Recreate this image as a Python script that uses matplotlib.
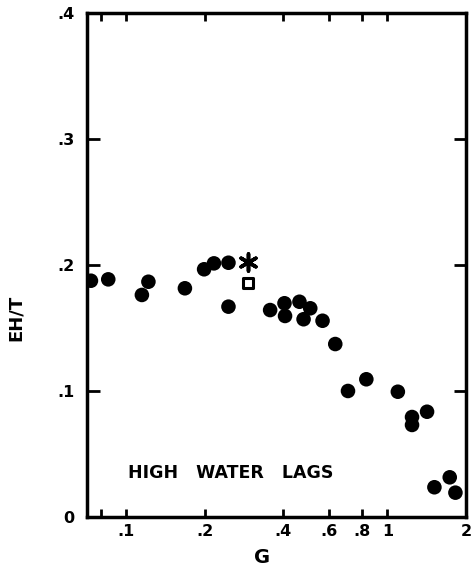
import matplotlib
matplotlib.use("Agg")
import matplotlib.pyplot as plt
from matplotlib.ticker import NullLocator, FixedLocator, FixedFormatter

# ---- data ----
g_dots = [0.0734, 0.0855, 0.115, 0.1218, 0.168, 0.199, 0.217, 0.2466, 0.2466,
          0.356, 0.404, 0.406, 0.461, 0.507, 0.478, 0.565, 0.632, 0.707,
          0.831, 1.097, 1.243, 1.243, 1.419, 1.514, 1.733, 1.822]
eht_dots = [0.1875, 0.1886, 0.1762, 0.1867, 0.1815, 0.1966, 0.2013, 0.2018, 0.1669,
            0.1642, 0.1696, 0.1595, 0.1708, 0.1656, 0.1569, 0.1557, 0.1372, 0.0999,
            0.1092, 0.0993, 0.0792, 0.0729, 0.0834, 0.0234, 0.0313, 0.0191]
g_star = [0.294]
eht_star = [0.2026]
g_square = [0.292]
eht_square = [0.1859]

x_ticks = [0.08, 0.1, 0.2, 0.4, 0.6, 0.8, 1.0, 2.0]
x_tick_labels = ["", ".1", ".2", ".4", ".6", ".8", "1", "2"]
y_ticks = [0.0, 0.1, 0.2, 0.3, 0.4]
y_tick_labels = ["0", ".1", ".2", ".3", ".4"]

W, H = 471, 567
fig = plt.figure(figsize=(W / 100, H / 100), dpi=100)
left, right, top, bottom = 87, 466, 13.3, 516.7
ax = fig.add_axes([left / W, 1 - bottom / H, (right - left) / W, (bottom - top) / H])

ax.scatter(g_dots, eht_dots, s=110, color="black", edgecolors="none", zorder=3)
ax.scatter(g_star, eht_star, s=150, marker=(6, 2, 0), color="black",
           linewidths=2.6, zorder=3)
ax.scatter(g_square, eht_square, s=42, marker="s", facecolors="white",
           edgecolors="black", linewidths=2.2, zorder=3)

ax.set_xscale("log")
ax.set_xlim(0.0709, 2.0)
ax.set_ylim(0, 0.4)

ax.xaxis.set_major_locator(FixedLocator(x_ticks))
ax.xaxis.set_major_formatter(FixedFormatter(x_tick_labels))
ax.xaxis.set_minor_locator(NullLocator())
ax.set_yticks(y_ticks)
ax.set_yticklabels(y_tick_labels)

for s in ax.spines.values():
    s.set_linewidth(2.5)

ax.tick_params(axis="x", which="major", direction="in", top=True, bottom=True,
               length=6, width=2, pad=5, labelsize=11.5)
ax.tick_params(axis="y", which="major", direction="in", left=True, right=True,
               length=9, width=2, pad=9, labelsize=11.5)
for lab in ax.get_xticklabels() + ax.get_yticklabels():
    lab.set_fontweight("bold")

ax.set_xlabel("G", fontsize=14, fontweight="bold")
ax.set_ylabel("EH/T", fontsize=13, fontweight="bold")
ax.xaxis.set_label_coords(0.462, -0.062)
ax.yaxis.set_label_coords(-0.164, 0.395)

ax.text(0.1018, 0.0347, "HIGH   WATER   LAGS", fontsize=12.5, fontweight="bold",
        ha="left", va="center")

fig.savefig("out.png", dpi=100)
